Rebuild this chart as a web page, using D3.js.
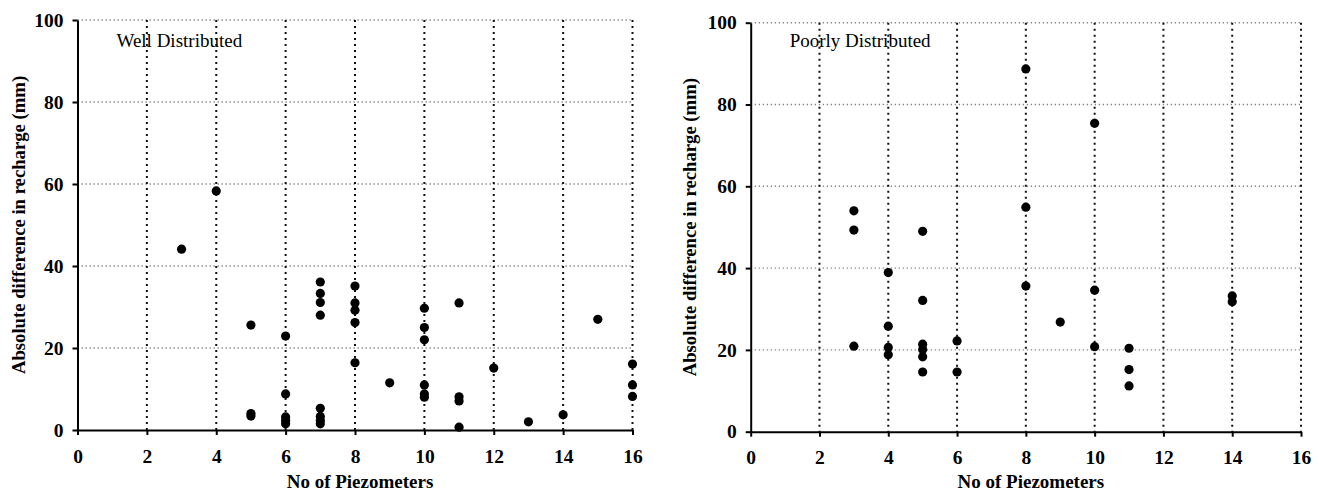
<!DOCTYPE html>
<html>
<head>
<meta charset="utf-8">
<script src="https://cdn.jsdelivr.net/npm/d3@7"></script>
<style>
  html, body { margin: 0; padding: 0; background: #fff; }
  svg { display: block; }
  text { font-family: "Liberation Serif", "Times New Roman", serif; fill: #000; }
</style>
</head>
<body>
<svg id="chart" width="1320" height="493"></svg>
<script>
// Piezometer counts and absolute recharge differences (mm)
const wellX = [3, 4, 5, 5, 5, 6, 6, 6, 6, 6, 7, 7, 7, 7, 7, 7, 7, 7,
  8, 8, 8, 8, 8, 9, 10, 10, 10, 10, 10, 10, 11, 11, 11, 11, 12, 13, 14, 15, 16, 16, 16];
const wellY = [44.1, 58.3, 25.6, 4.0, 3.4, 22.9, 8.8, 3.2, 2.3, 1.5, 36.1, 33.3, 31.1, 28.0, 5.3, 3.3, 2.3, 1.5,
  35.1, 31.0, 29.2, 26.2, 16.4, 11.5, 29.7, 25.0, 22.0, 11.0, 8.8, 8.0, 31.0, 8.1, 7.1, 0.7, 15.1, 2.0, 3.7, 27.0, 16.1, 11.0, 8.2];

const poorX = [3, 3, 3, 4, 4, 4, 4, 5, 5, 5, 5, 5, 5, 6, 6,
  8, 8, 8, 9, 10, 10, 10, 11, 11, 11, 14, 14];
const poorY = [54.0, 49.3, 20.9, 38.9, 25.8, 20.6, 18.8, 49.0, 32.1, 21.4, 20.1, 18.3, 14.6, 22.2, 14.6,
  88.7, 54.9, 35.6, 26.8, 75.4, 34.6, 20.8, 20.4, 15.2, 11.2, 33.2, 31.8];

const xTicks = [0, 2, 4, 6, 8, 10, 12, 14, 16];
const yTicks = [0, 20, 40, 60, 80, 100];
const xTitle = "No of Piezometers";
const yTitle = "Absolute difference in recharge (mm)";

const svg = d3.select("#chart");

function panel(opts) {
  const { xs, ys, label, x0, x1, y0, y1, yTitleX } = opts;
  const x = d3.scaleLinear().domain([0, 16]).range([x0, x1]);
  const y = d3.scaleLinear().domain([0, 100]).range([y0, y1]);
  const g = svg.append("g");

  // horizontal grid (light, fine dots)
  g.append("g").selectAll("line")
    .data(yTicks.filter(d => d > 0))
    .join("line")
    .attr("x1", x(0)).attr("x2", x(16))
    .attr("y1", d => y(d)).attr("y2", d => y(d))
    .attr("stroke", "#888").attr("stroke-width", 1.4)
    .attr("stroke-dasharray", "1.4,2.6");

  // vertical grid (dark, heavier dots)
  g.append("g").selectAll("line")
    .data(xTicks.filter(d => d > 0))
    .join("line")
    .attr("x1", d => x(d)).attr("x2", d => x(d))
    .attr("y1", y(100)).attr("y2", y(0))
    .attr("stroke", "#111").attr("stroke-width", 2)
    .attr("stroke-dasharray", "2,4");

  // axes
  const xAxis = d3.axisBottom(x).tickValues(xTicks).tickSize(5).tickSizeOuter(0).tickPadding(8);
  const yAxis = d3.axisLeft(y).tickValues(yTicks).tickSize(5).tickSizeOuter(0).tickPadding(9);

  const gx = g.append("g").attr("transform", `translate(0,${y(0)})`).call(xAxis);
  const gy = g.append("g").attr("transform", `translate(${x(0)},0)`).call(yAxis);
  [gx, gy].forEach(a => {
    a.attr("font-family", null).attr("font-size", null);
    a.select(".domain").attr("stroke", "#000").attr("stroke-width", 2);
    a.selectAll(".tick line").attr("stroke", "#000").attr("stroke-width", 2);
    a.selectAll(".tick text")
      .attr("fill", "#000")
      .style("font-family", '"Liberation Serif", serif')
      .style("font-size", "19.5px")
      .style("font-weight", "bold");
  });
  gx.selectAll(".tick text").attr("dy", "1.0em");

  // points
  g.append("g").selectAll("circle")
    .data(xs.map((d, i) => [d, ys[i]]))
    .join("circle")
    .attr("cx", d => x(d[0]))
    .attr("cy", d => y(d[1]))
    .attr("r", 4.6)
    .attr("fill", "#000");

  // panel label
  g.append("text")
    .attr("x", x(0) + 39).attr("y", 47)
    .style("font-size", "19px")
    .text(label);

  // axis titles
  g.append("text")
    .attr("x", (x0 + x1) / 2 + 5).attr("y", 488)
    .attr("text-anchor", "middle")
    .style("font-size", "19px").style("font-weight", "bold")
    .text(xTitle);

  g.append("text")
    .attr("transform", `translate(${yTitleX},${(y0 + y1) / 2}) rotate(-90)`)
    .attr("text-anchor", "middle")
    .style("font-size", "18.7px").style("font-weight", "bold")
    .text(yTitle);
}

panel({ xs: wellX, ys: wellY, label: "Well Distributed",
  x0: 77.5, x1: 632.5, y0: 430, y1: 20, yTitleX: 25 });
panel({ xs: poorX, ys: poorY, label: "Poorly Distributed",
  x0: 750.7, x1: 1301, y0: 431.7, y1: 22.7, yTitleX: 696 });
</script>
</body>
</html>
